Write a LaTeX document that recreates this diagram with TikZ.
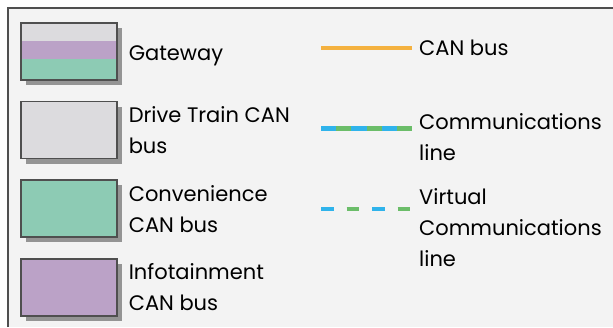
\documentclass[tikz,border=0pt]{standalone}
\usepackage{fontspec}
\setmainfont{Poppins}
\usetikzlibrary{positioning,shadows}

\definecolor{frameGray}{HTML}{4F4F4F}
\definecolor{panelBg}{HTML}{F3F3F3}
\definecolor{driveGray}{HTML}{DCDBDE}
\definecolor{convGreen}{HTML}{8DCBB4}
\definecolor{infoPurple}{HTML}{BBA2C7}
\definecolor{canOrange}{HTML}{F4B13F}
\definecolor{comBlue}{HTML}{2FB3EB}
\definecolor{comGreen}{HTML}{6BBD69}

\tikzset{
	keybox/.style={draw=frameGray, line width=1.6pt, rectangle, anchor=north west,
		minimum width=96pt, minimum height=57pt, inner sep=0pt,
		drop shadow={shadow xshift=5pt, shadow yshift=-5pt, fill=black!42, opacity=1}},
	keytext/.style={anchor=west, align=left, inner sep=0pt,
		font=\fontsize{21}{31}\selectfont},
	keyline/.style={line width=4.5pt},
}

\begin{document}
\begin{tikzpicture}[x=1pt, y=-1pt]

	\useasboundingbox (0,0) rectangle (613,327);

	%% The panel behind the key
	\fill[white] (0,0) rectangle (613,327);
	\fill[panelBg] (8,8) rectangle (613,327);
	\draw[frameGray, line width=2pt] (8,327) -- (8,8) -- (613,8);

	%% The gateway box, three bands
	\node[keybox, fill=convGreen, path picture={
			\fill[driveGray] (path picture bounding box.north west) rectangle ([yshift=-18pt]path picture bounding box.north east);
			\fill[infoPurple] ([yshift=-18pt]path picture bounding box.north west) rectangle ([yshift=-36pt]path picture bounding box.north east);
		}] at (20,22) (box-0) {};
	\node[keytext, right=11pt of box-0, yshift=-5pt] (text-0) {Gateway};

	%% The bus boxes, one per row
	\foreach [count=\r] \c/\t in {driveGray/{Drive Train CAN\\bus}, convGreen/{Convenience\\CAN bus}, infoPurple/{Infotainment\\CAN bus}}{%
		\pgfmathsetmacro\yTop{22+\r*78.7}
		\node[keybox, fill=\c] at (20,\yTop) (box-\r) {};
		\node[keytext, right=11pt of box-\r] (text-\r) {\t};
	}

	%% CAN bus
	\coordinate (can-a) at (321,48);
	\coordinate (can-b) at (412,48);
	\draw[keyline, canOrange] (can-a) -- (can-b);
	\node[keytext, right=7pt of can-b] (can-text) {CAN bus};

	%% Communications line, blue and green in turn
	\coordinate (com-a) at (321,128.5);
	\coordinate (com-b) at (412,128.5);
	\draw[keyline, comBlue] (com-a) -- (com-b);
	\draw[keyline, comGreen, dash pattern=on 15.17pt off 15.17pt, dash phase=15.17pt] (com-a) -- (com-b);
	\node[keytext, right=7pt of com-b, yshift=-9pt] (com-text) {Communications\\line};

	%% Virtual communications line
	\coordinate (vir-a) at (321,209);
	\coordinate (vir-b) at (412,209);
	\draw[keyline, comBlue, dash pattern=on 12.5pt off 38.5pt] (vir-a) -- (vir-b);
	\draw[keyline, comGreen, dash pattern=on 12.5pt off 38.5pt, dash phase=25.5pt] (vir-a) -- (vir-b);
	\node[keytext, right=7pt of vir-b, yshift=-19pt] (vir-text) {Virtual\\Communications\\line};

\end{tikzpicture}
\end{document}
